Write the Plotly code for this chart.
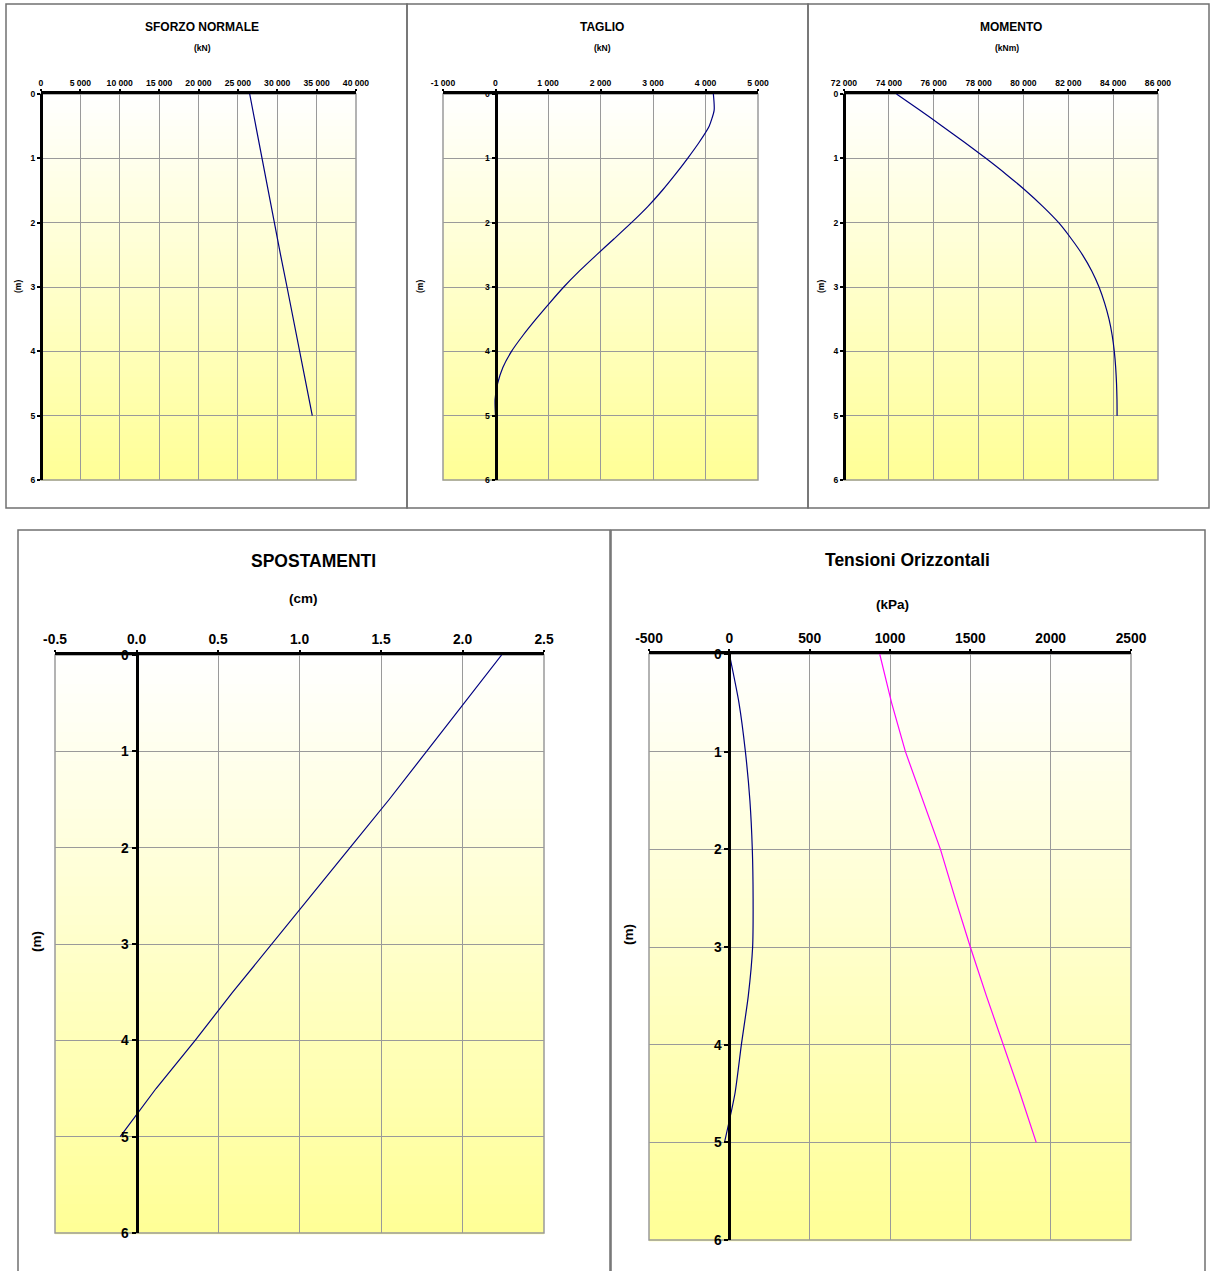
import plotly.graph_objects as go

W, H = 1210, 1271

# ---------------- data ----------------
depth_half = [0, 0.5, 1, 1.5, 2, 2.5, 3, 3.5, 4, 4.5, 5]
depth_q = [0, 0.25, 0.5, 0.75, 1, 1.25, 1.5, 1.75, 2, 2.25, 2.5, 2.75,
           3, 3.25, 3.5, 3.75, 4, 4.25, 4.5, 4.75, 5]

sforzo_normale = [26500, 27270, 28060, 28860, 29640, 30420, 31240, 32040, 32850, 33640, 34450]
taglio = [4150, 4165, 4070, 3880, 3660, 3425, 3175, 2900, 2590, 2260, 1925, 1600,
          1300, 1030, 770, 525, 305, 140, 40, -8, 0]
momento = [74340, 75370, 76382, 77370, 78325, 79237, 80092, 80872, 81572, 82134, 82634,
           83046, 83371, 83621, 83816, 83956, 84051, 84113, 84151, 84171, 84176]
spostamenti = [2.24, 2.01, 1.78, 1.55, 1.31, 1.07, 0.83, 0.59, 0.36, 0.12, -0.10]
tens_blue = [0, 60, 100, 128, 143, 148, 145, 118, 75, 35, -30]
tens_magenta = [936, 1010, 1096, 1205, 1314, 1405, 1500, 1600, 1706, 1810, 1910]

sforzo_ticks = [0, 5000, 10000, 15000, 20000, 25000, 30000, 35000, 40000]
sforzo_text = ["0", "5 000", "10 000", "15 000", "20 000", "25 000", "30 000", "35 000", "40 000"]
taglio_ticks = [-1000, 0, 1000, 2000, 3000, 4000, 5000]
taglio_text = ["-1 000", "0", "1 000", "2 000", "3 000", "4 000", "5 000"]
momento_ticks = [72000, 74000, 76000, 78000, 80000, 82000, 84000, 86000]
momento_text = ["72 000", "74 000", "76 000", "78 000", "80 000", "82 000", "84 000", "86 000"]
spost_ticks = [-0.5, 0, 0.5, 1.0, 1.5, 2.0, 2.5]
spost_text = ["-0.5", "0.0", "0.5", "1.0", "1.5", "2.0", "2.5"]
tens_ticks = [-500, 0, 500, 1000, 1500, 2000, 2500]
tens_text = ["-500", "0", "500", "1000", "1500", "2000", "2500"]
depth_ticks = [0, 1, 2, 3, 4, 5, 6]

FONT = "Liberation Sans, Arial, sans-serif"


def fx(px):
    return px / W


def fy(py):
    return 1 - py / H


panels = [
    dict(box=(41, 356, 94, 480), rng=(0, 40000), tv=sforzo_ticks, tt=sforzo_text,
         title="SFORZO NORMALE", unit="(kN)", tpos=(202, 27), upos=(202, 48), mpos=(18, 287),
         tfs=12, ufs=8.5, tkfs=8.6, frame=(6, 407, 4, 508), small=True),
    dict(box=(443, 758, 94, 480), rng=(-1000, 5000), tv=taglio_ticks, tt=taglio_text,
         title="TAGLIO", unit="(kN)", tpos=(602, 27), upos=(602, 48), mpos=(420, 287),
         tfs=12, ufs=8.5, tkfs=8.6, frame=(407, 808, 4, 508), small=True),
    dict(box=(844, 1158, 94, 480), rng=(72000, 86000), tv=momento_ticks, tt=momento_text,
         title="MOMENTO", unit="(kNm)", tpos=(1011, 27), upos=(1007, 48), mpos=(821, 287),
         tfs=12, ufs=8.5, tkfs=8.6, frame=(808, 1209, 4, 508), small=True),
    dict(box=(55, 544, 655, 1233), rng=(-0.5, 2.5), tv=spost_ticks, tt=spost_text,
         title="SPOSTAMENTI", unit="(cm)", tpos=(313, 561), upos=(303, 599), mpos=(37, 942),
         tfs=17.5, ufs=13.5, tkfs=13.8, frame=(18, 610, 530, 1275), small=False),
    dict(box=(649, 1131, 654, 1240), rng=(-500, 2500), tv=tens_ticks, tt=tens_text,
         title="Tensioni Orizzontali", unit="(kPa)", tpos=(907, 560), upos=(892, 604), mpos=(628, 935),
         tfs=17.5, ufs=13.5, tkfs=13.8, frame=(611, 1205, 530, 1275), small=False),
]

series = [
    [(sforzo_normale, depth_half, "#000080", "linear")],
    [(taglio, depth_q, "#000080", "spline")],
    [(momento, depth_q, "#000080", "spline")],
    [(spostamenti, depth_half, "#000080", "linear")],
    [(tens_blue, depth_half, "#000080", "spline"), (tens_magenta, depth_half, "#FF00FF", "linear")],
]

fig = go.Figure()
shapes = []
annotations = []
layout = {}

NB = 60
for i, (p, ser) in enumerate(zip(panels, series), start=1):
    xa = "xaxis" if i == 1 else f"xaxis{i}"
    ya = "yaxis" if i == 1 else f"yaxis{i}"
    xr = "x" if i == 1 else f"x{i}"
    yr = "y" if i == 1 else f"y{i}"
    x0, x1, y0, y1 = p["box"]
    rmin, rmax = p["rng"]
    zero_px = x0 + (0 - rmin) / (rmax - rmin) * (x1 - x0) if rmin < 0 else x0
    tick_font = dict(family=FONT, size=p["tkfs"], color="black", weight="bold")
    layout[xa] = dict(domain=[fx(x0), fx(x1)], range=[rmin, rmax], side="top", anchor=yr,
                      tickmode="array", tickvals=p["tv"], ticktext=p["tt"],
                      showgrid=True, gridcolor="#9a9a9a", gridwidth=1,
                      showline=True, linecolor="black", linewidth=3,
                      ticks="outside", ticklen=2 if p["small"] else 2, tickwidth=2, tickcolor="black",
                      tickfont=tick_font, zeroline=False, fixedrange=True, automargin=False)
    layout[ya] = dict(domain=[fy(y1), fy(y0)], range=[6, 0], anchor="free", position=fx(zero_px),
                      tickmode="array", tickvals=depth_ticks,
                      showgrid=True, gridcolor="#9a9a9a", gridwidth=1,
                      showline=True, linecolor="black", linewidth=3,
                      ticks="outside", ticklen=3 if p["small"] else 4, tickwidth=2, tickcolor="black",
                      tickfont=tick_font, zeroline=False, fixedrange=True, automargin=False)
    # gradient background
    for k in range(NB):
        t = (k + 0.5) / NB
        g = round(255 - (255 - 150) * t)
        shapes.append(dict(type="rect", xref=f"{xr} domain", yref=f"{yr} domain",
                           x0=0, x1=1, y0=1 - k / NB, y1=1 - (k + 1) / NB - 0.002,
                           fillcolor=f"rgb(255,255,{g})", line=dict(width=0), layer="below"))
    # plot border
    shapes.append(dict(type="rect", xref=f"{xr} domain", yref=f"{yr} domain",
                       x0=0, x1=1, y0=0, y1=1, line=dict(color="#9a9a9a", width=1.5),
                       fillcolor="rgba(0,0,0,0)", layer="below"))
    # outer frame
    fx0, fx1, fy0, fy1 = p["frame"]
    shapes.append(dict(type="rect", xref="paper", yref="paper",
                       x0=fx(fx0), x1=fx(fx1), y0=fy(fy1), y1=fy(fy0),
                       line=dict(color="#707070", width=1.5), fillcolor="rgba(0,0,0,0)", layer="above"))
    # titles
    annotations.append(dict(text=p["title"], x=fx(p["tpos"][0]), y=fy(p["tpos"][1]),
                            xref="paper", yref="paper", showarrow=False, xanchor="center", yanchor="middle",
                            font=dict(family=FONT, size=p["tfs"], color="black", weight="bold")))
    annotations.append(dict(text=p["unit"], x=fx(p["upos"][0]), y=fy(p["upos"][1]),
                            xref="paper", yref="paper", showarrow=False, xanchor="center", yanchor="middle",
                            font=dict(family=FONT, size=p["ufs"], color="black", weight="bold")))
    annotations.append(dict(text="(m)", x=fx(p["mpos"][0]), y=fy(p["mpos"][1]),
                            xref="paper", yref="paper", showarrow=False, xanchor="center", yanchor="middle",
                            textangle=-90,
                            font=dict(family=FONT, size=p["ufs"], color="black", weight="bold")))
    for xs, ys, col, shp in ser:
        line = dict(color=col, width=1.2, shape=shp)
        if shp == "spline":
            line["smoothing"] = 0.6
        fig.add_trace(go.Scatter(x=xs, y=ys, mode="lines", line=line,
                                 xaxis=xr, yaxis=yr, showlegend=False, hoverinfo="skip"))

fig.update_layout(width=W, height=H, autosize=False,
                  margin=dict(l=0, r=0, t=0, b=0, pad=0, autoexpand=False),
                  paper_bgcolor="white", plot_bgcolor="rgba(0,0,0,0)", showlegend=False,
                  shapes=shapes, annotations=annotations, **layout)

fig.write_html("out.html", config={"displayModeBar": False},
               post_script="document.body.style.margin='0px';document.body.style.overflow='hidden';")
